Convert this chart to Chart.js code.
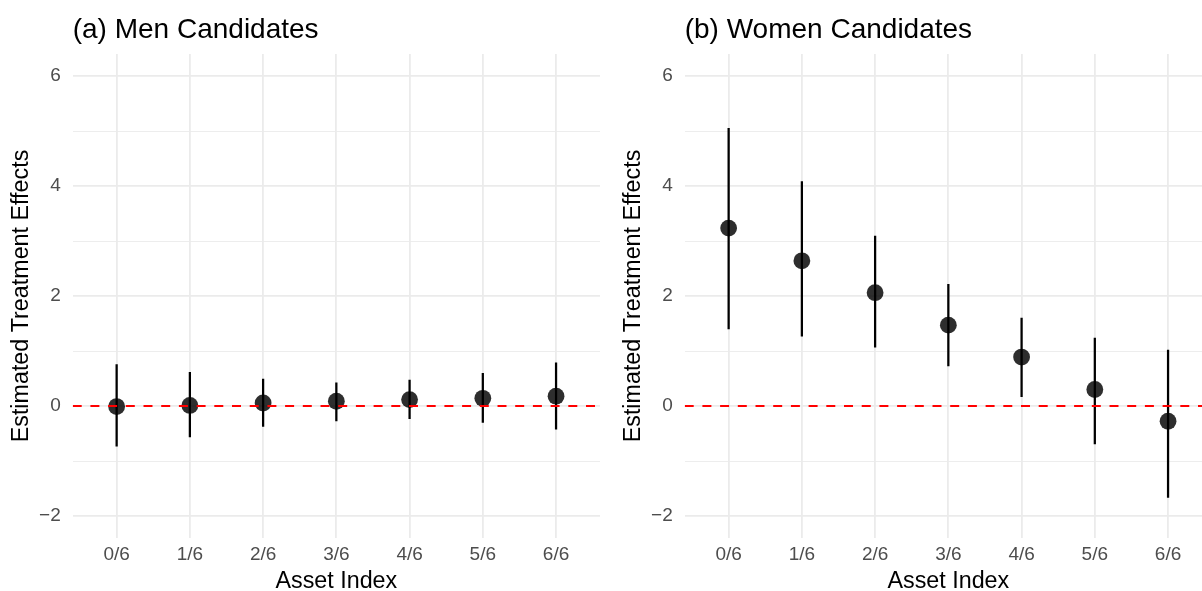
<!DOCTYPE html>
<html>
<head>
<meta charset="utf-8">
<script src="https://cdn.jsdelivr.net/npm/chart.js@4.4.1/dist/chart.umd.min.js"></script>
<style>
  html, body { margin: 0; padding: 0; background: #fff; }
  body { width: 1202px; height: 591px; overflow: hidden; position: relative; }
  .panel { position: absolute; top: 0; width: 601px; height: 591px; }
</style>
</head>
<body>
<div class="panel" style="left:0"><canvas id="men"></canvas></div>
<div class="panel" style="left:612px"><canvas id="women"></canvas></div>
<script>
// ==========================================================================
// Data
// ==========================================================================
const assetLevels = ['0/6', '1/6', '2/6', '3/6', '4/6', '5/6', '6/6'];
const yTicks = [-2, -1, 0, 1, 2, 3, 4, 5, 6];

const menEstimate = [-0.01, 0.01, 0.055, 0.086, 0.117, 0.14, 0.178];
const menLower    = [-0.73, -0.56, -0.37, -0.27, -0.23, -0.30, -0.42];
const menUpper    = [0.755, 0.61, 0.49, 0.42, 0.47, 0.595, 0.785];

const womenEstimate = [3.235, 2.64, 2.06, 1.47, 0.89, 0.30, -0.277];
const womenLower    = [1.40, 1.27, 1.07, 0.73, 0.17, -0.69, -1.66];
const womenUpper    = [5.05, 4.08, 3.09, 2.21, 1.60, 1.235, 1.015];

// ==========================================================================
// Shared look
// ==========================================================================
const FONT = '"Liberation Sans", Arial, Helvetica, sans-serif';
const GRID = '#EBEBEB';
const X_MIN = -0.6, X_MAX = 6.6;
const Y_MIN = -2.4, Y_MAX = 6.4;

// draws the panel title flush with the plot area, like ggplot's plot.title
const panelTitle = {
    id: 'panelTitle',
    afterDraw(chart, args, opts) {
        const ctx = chart.ctx;
        ctx.save();
        ctx.font = '28px ' + FONT;
        ctx.fillStyle = '#000';
        ctx.textBaseline = 'alphabetic';
        ctx.textAlign = 'left';
        ctx.fillText(opts.text, chart.chartArea.left, 38);
        ctx.restore();
    }
};

function buildChart(canvasId, title, est, lo, hi) {
    const ctx = document.getElementById(canvasId).getContext('2d');
    return new Chart(ctx, {
        data: {
            datasets: [
                {
                    // zero reference line
                    type: 'line',
                    data: [{ x: X_MIN, y: 0 }, { x: X_MAX, y: 0 }],
                    borderColor: '#FF0000',
                    borderWidth: 2.2,
                    borderDash: [9, 8.7],
                    pointRadius: 0,
                    order: 0,
                },
                {
                    type: 'scatter',
                    data: est.map((v, i) => ({ x: i, y: v })),
                    backgroundColor: 'rgba(0,0,0,0.82)',
                    borderWidth: 0,
                    pointRadius: 8.4,
                    pointHoverRadius: 8.4,
                    order: 1,
                },
                {
                    // interval whiskers as thin floating bars
                    type: 'bar',
                    data: lo.map((v, i) => ({ x: i, y: [v, hi[i]] })),
                    backgroundColor: '#000',
                    barThickness: 1.6,
                    order: 2,
                },
            ]
        },
        options: {
            responsive: true,
            maintainAspectRatio: false,
            animation: false,
            layout: { autoPadding: false, padding: { top: 54, right: 1, bottom: 0, left: 0 } },
            scales: {
                x: {
                    type: 'linear',
                    min: X_MIN,
                    max: X_MAX,
                    offset: false,
                    afterBuildTicks: s => { s.ticks = assetLevels.map((_, i) => ({ value: i })); },
                    afterFit: s => { s.height = 53; s.paddingLeft = 0; s.paddingRight = 0; },
                    grid: { color: GRID, lineWidth: 1.8, drawTicks: false, offset: false },
                    border: { display: false },
                    ticks: {
                        padding: 5,
                        color: '#4D4D4D',
                        font: { family: FONT, size: 19 },
                        maxRotation: 0,
                        autoSkip: false,
                        callback: v => assetLevels[v] ?? '',
                    },
                    title: {
                        display: true,
                        text: 'Asset Index',
                        color: '#000',
                        font: { family: FONT, size: 23.3, lineHeight: 0.86 },
                        padding: { top: 0, bottom: -1 },
                    },
                },
                y: {
                    min: Y_MIN,
                    max: Y_MAX,
                    afterBuildTicks: s => { s.ticks = yTicks.map(v => ({ value: v })); },
                    afterFit: s => { s.width = 72.7; s.paddingTop = 0; s.paddingBottom = 0; },
                    grid: {
                        color: GRID,
                        drawTicks: false,
                        lineWidth: c => (c.tick && c.tick.value % 2 === 0 ? 1.8 : 0.9),
                    },
                    border: { display: false },
                    ticks: {
                        padding: 12,
                        color: '#4D4D4D',
                        font: { family: FONT, size: 19 },
                        callback: v => (v % 2 === 0 ? String(v).replace('-', '\u2212') : ''),
                    },
                    title: {
                        display: true,
                        text: 'Estimated Treatment Effects',
                        color: '#000',
                        font: { family: FONT, size: 23.3, lineHeight: 1 },
                        padding: { top: 10, bottom: 0 },
                    },
                },
            },
            plugins: {
                legend: { display: false },
                tooltip: { enabled: false },
                panelTitle: { text: title },
            },
        },
        plugins: [panelTitle],
    });
}

buildChart('men', '(a) Men Candidates', menEstimate, menLower, menUpper);
buildChart('women', '(b) Women Candidates', womenEstimate, womenLower, womenUpper);
</script>
</body>
</html>
